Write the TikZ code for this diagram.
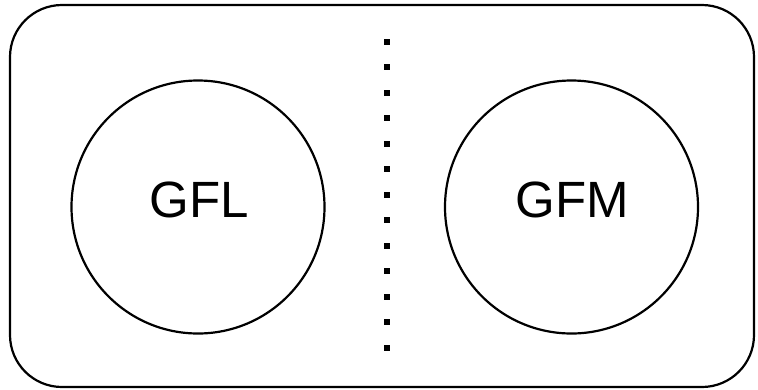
\documentclass[tikz,border=0pt]{standalone}
\usepackage{fontspec}
\setmainfont{Liberation Sans}
\begin{document}
\begin{tikzpicture}[x=1pt,y=-1pt,
  frame/.style={draw=black,line width=2.2pt,rounded corners=52pt},
  group/.style={circle,draw=black,line width=2.2pt,minimum size=253pt,inner sep=0pt},
  grouplabel/.style={font=\fontsize{51}{51}\selectfont,anchor=center,inner sep=0pt},
  sepdot/.style={fill=black,minimum size=6pt,inner sep=0pt,draw=none}]
  \useasboundingbox (0,0) rectangle (758,389);
  \draw[frame] (10,5) rectangle (754,387);
  \node[group] (gfl) at (198,207) {};
  \node[group] (gfm) at (571.5,207) {};
  \node[grouplabel] (gfltext) at (199,200) {GFL};
  \node[grouplabel] (gfmtext) at (572,200) {GFM};
  \foreach \i in {0,...,12}
    \node[sepdot] (dot\i) at (386.5,{41.7+25.5*\i}) {};
\end{tikzpicture}
\end{document}
